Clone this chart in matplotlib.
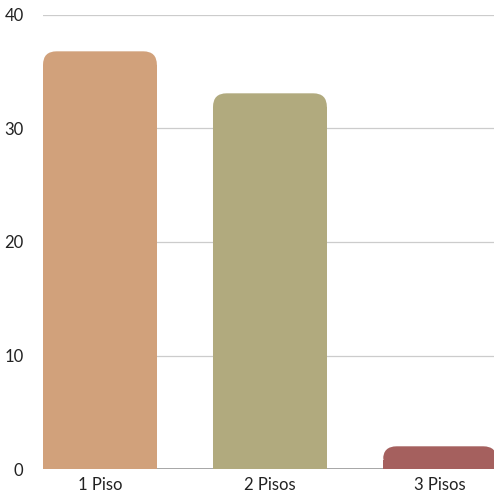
import matplotlib
matplotlib.use("Agg")
import matplotlib.pyplot as plt
from matplotlib.patches import FancyBboxPatch, Rectangle

categories = ["1 Piso", "2 Pisos", "3 Pisos"]
values = [36.8, 33.1, 2.0]
colors = ["#D1A17B", "#B1AA7E", "#A5605E"]
yticks = [0, 10, 20, 30, 40]

plt.rcParams['font.family'] = ['Lato', 'DejaVu Sans']

fig = plt.figure(figsize=(4.94, 4.95), dpi=100)
ax = fig.add_axes([43/494, 26/495, 451/494, 454/495])

bars = ax.bar(range(len(categories)), values, width=0.67, color=colors, zorder=3)

ax.set_xlim(-0.335, 2.318)
ax.set_ylim(0, 40)

# rounded tops only
rx = 0.08
ry = rx * 15.0
for b, c in zip(bars, colors):
    x, y = b.get_x(), b.get_y()
    w, h = b.get_width(), b.get_height()
    b.set_visible(False)
    p = FancyBboxPatch((x, y), w, h, boxstyle="round,pad=0,rounding_size=%g" % rx,
                       mutation_aspect=ry / rx, fc=c, ec="none", zorder=3)
    ax.add_patch(p)
    ax.add_patch(Rectangle((x, y), w, h - ry, fc=c, ec="none", zorder=3))

ax.set_xticks(range(len(categories)))
ax.set_xticklabels(categories)
ax.set_yticks(yticks)
ax.yaxis.grid(True, color="#CCCCCC", linewidth=0.9, zorder=0)
ax.axhline(0, color="#999999", linewidth=1.2, zorder=2)
ax.tick_params(length=0, labelsize=12, colors="#222222")
ax.tick_params(axis="y", pad=14)
ax.tick_params(axis="x", pad=6)
for s in ax.spines.values():
    s.set_visible(False)

fig.savefig("out.png", dpi=100)
